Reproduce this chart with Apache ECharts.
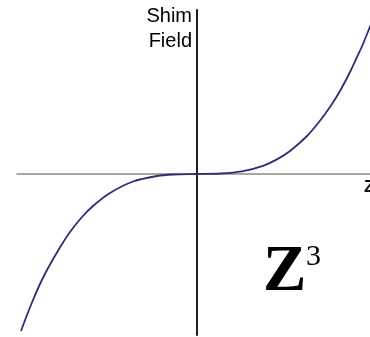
<!DOCTYPE html>
<html>
<head>
<meta charset="utf-8">
<script src="https://cdn.jsdelivr.net/npm/echarts@6/dist/echarts.min.js"></script>
<style>
    html, body { margin: 0; padding: 0; background: #fff; }
    #chart { width: 370px; height: 337px; }
</style>
</head>
<body>
<div id="chart"></div>
<script>
// z position and shim field value
var zValues = [-1.76, -1.70, -1.64, -1.57, -1.50, -1.38, -1.27, -1.15, -1.04, -0.87, -0.64, -0.40, -0.24, 0, 0.23, 0.45, 0.66, 0.80, 0.93, 1.10, 1.22, 1.33, 1.43, 1.53, 1.60, 1.66, 1.76];
var fieldValues = [-1.57, -1.41, -1.26, -1.10, -0.96, -0.75, -0.58, -0.43, -0.32, -0.19, -0.075, -0.02, -0.005, 0, 0.005, 0.026, 0.082, 0.146, 0.23, 0.38, 0.52, 0.67, 0.83, 1.02, 1.17, 1.30, 1.55];

var curveData = [];
for (var i = 0; i < zValues.length; i++) {
    curveData.push([zValues[i], fieldValues[i]]);
}

var myChart = echarts.init(document.getElementById('chart'));

var option = {
    backgroundColor: '#ffffff',
    animation: false,
    grid: {
        left: 17,
        right: 0,
        top: 10,
        bottom: 2
    },
    xAxis: {
        type: 'value',
        min: -1.8,
        max: 1.73,
        axisLine: {
            onZero: true,
            lineStyle: { color: '#8c8c8c', width: 1.5 }
        },
        axisTick: { show: false },
        axisLabel: { show: false },
        splitLine: { show: false }
    },
    yAxis: {
        type: 'value',
        min: -1.61,
        max: 1.64,
        axisLine: {
            show: true,
            onZero: true,
            lineStyle: { color: '#1e1e1e', width: 2 }
        },
        axisTick: { show: false },
        axisLabel: { show: false },
        splitLine: { show: false }
    },
    series: [
        {
            type: 'line',
            data: curveData,
            smooth: 0.3,
            symbol: 'none',
            lineStyle: { color: '#2e2e72', width: 1.8 }
        }
    ],
    graphic: [
        {
            type: 'text',
            style: {
                text: 'Shim',
                x: 192, y: 16.5,
                textAlign: 'right', textVerticalAlign: 'middle',
                font: '20px "Liberation Sans", Arial, sans-serif',
                fill: '#000'
            }
        },
        {
            type: 'text',
            style: {
                text: 'Field',
                x: 192, y: 41.5,
                textAlign: 'right', textVerticalAlign: 'middle',
                font: '20px "Liberation Sans", Arial, sans-serif',
                fill: '#000'
            }
        },
        {
            type: 'text',
            style: {
                text: 'Z',
                x: 364, y: 187,
                textAlign: 'left', textVerticalAlign: 'middle',
                font: 'bold 17px "Liberation Sans", Arial, sans-serif',
                fill: '#111'
            }
        },
        {
            type: 'text',
            style: {
                text: 'Z',
                x: 263, y: 273.5,
                textAlign: 'left', textVerticalAlign: 'middle',
                font: 'bold 65px "Liberation Serif", serif',
                fill: '#000'
            }
        },
        {
            type: 'text',
            style: {
                text: '3',
                x: 306, y: 257,
                textAlign: 'left', textVerticalAlign: 'middle',
                font: '30px "Liberation Serif", serif',
                fill: '#000'
            }
        }
    ]
};

myChart.setOption(option, true);
</script>
</body>
</html>
